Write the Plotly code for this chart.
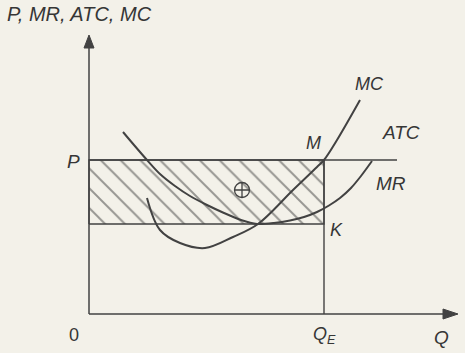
import plotly.graph_objects as go

# ---- data (units, origin at 0) ----
q_e = 235          # equilibrium output Q_E
price = 154        # P level
atc_low = 90       # lower edge of shaded area

curve1_q = [34, 45, 58, 71, 86, 101, 118, 135, 152, 168, 185, 201, 215, 228, 240, 251, 262, 272, 283]
curve1_v = [182, 169, 154, 140, 128, 118, 109, 101, 94, 90, 91, 93.5, 97, 102, 108.5, 116, 126, 138, 153]

mc_q = [58, 71, 91, 116, 144, 169, 204, 228, 235, 248, 271]
mc_v = [116, 84, 71, 66, 77, 90, 124, 147, 154, 174, 214]

p_line_end = 308
x_axis_end = 369
y_axis_end = 279
profit_mark = (153, 124)

INK = "#424242"
TXT = "#363636"
BG = "#f3f1e9"
FONT = "Liberation Sans, Arial, sans-serif"

fig = go.Figure()

# hatched profit rectangle
fig.add_trace(go.Scatter(
    x=[0, q_e, q_e, 0, 0], y=[atc_low, atc_low, price, price, atc_low],
    mode="lines", fill="toself", line=dict(color=INK, width=1.4),
    fillcolor="rgba(0,0,0,0)",
    fillpattern=dict(shape="\\", size=14, solidity=0.14, fgcolor="#3c3c3c",
                     bgcolor=BG),
    hoverinfo="skip", showlegend=False))

# P line
fig.add_trace(go.Scatter(x=[0, p_line_end], y=[price, price], mode="lines",
                         line=dict(color=INK, width=1.4), showlegend=False))
# vertical at Q_E
fig.add_trace(go.Scatter(x=[q_e, q_e], y=[0, price], mode="lines",
                         line=dict(color=INK, width=1.4), showlegend=False))

# curves
fig.add_trace(go.Scatter(x=curve1_q, y=curve1_v, mode="lines",
                         line=dict(color=INK, width=2, shape="spline", smoothing=0.8),
                         showlegend=False))
fig.add_trace(go.Scatter(x=mc_q, y=mc_v, mode="lines",
                         line=dict(color=INK, width=2, shape="spline", smoothing=1.0),
                         showlegend=False))

# axes
fig.add_trace(go.Scatter(x=[0, 0], y=[0, y_axis_end - 8], mode="lines",
                         line=dict(color=INK, width=1.5), showlegend=False))
fig.add_trace(go.Scatter(x=[0, x_axis_end - 8], y=[0, 0], mode="lines",
                         line=dict(color=INK, width=1.5), showlegend=False))
fig.add_shape(type="path", xref="x", yref="y",
              path=f"M -5 {y_axis_end-13} L 0 {y_axis_end} L 5 {y_axis_end-13} Z",
              fillcolor=INK, line=dict(color=INK, width=1))
fig.add_shape(type="path", xref="x", yref="y",
              path=f"M {x_axis_end-15} -5 L {x_axis_end} 0 L {x_axis_end-15} 5 Z",
              fillcolor=INK, line=dict(color=INK, width=1))

# circled plus
fig.add_trace(go.Scatter(x=[profit_mark[0]], y=[profit_mark[1]], mode="markers",
                         marker=dict(symbol="circle-cross-open", size=15,
                                     color=INK, line=dict(width=1.3)),
                         showlegend=False))

def lab(x, y, t, size=18, italic=True, xanchor="center"):
    fig.add_annotation(x=x, y=y, xref="x", yref="y", text=t, showarrow=False,
                       xanchor=xanchor, yanchor="middle",
                       font=dict(family=FONT, size=size, color=TXT,
                                 style="italic" if italic else "normal"))

lab(-84, 300, "P, MR, ATC, MC", size=20, xanchor="left")
lab(-16, 153, "P", size=19)
lab(-15, -21, "0", size=18, italic=False)
lab(235, -21, "Q<sub>E</sub>", size=18)
lab(352, -23, "Q", size=19)
lab(224, 171, "M", size=18)
lab(280, 230, "MC", size=18)
lab(312, 182, "ATC", size=19)
lab(302, 131, "MR", size=19)
lab(247, 84, "K", size=18)

fig.update_layout(
    width=465, height=353, margin=dict(l=0, r=0, t=0, b=0),
    paper_bgcolor=BG, plot_bgcolor=BG,
    xaxis=dict(range=[-89, 376], visible=False, fixedrange=True),
    yaxis=dict(range=[-39, 314], visible=False, fixedrange=True),
    showlegend=False,
)
fig.write_html("out.html")
